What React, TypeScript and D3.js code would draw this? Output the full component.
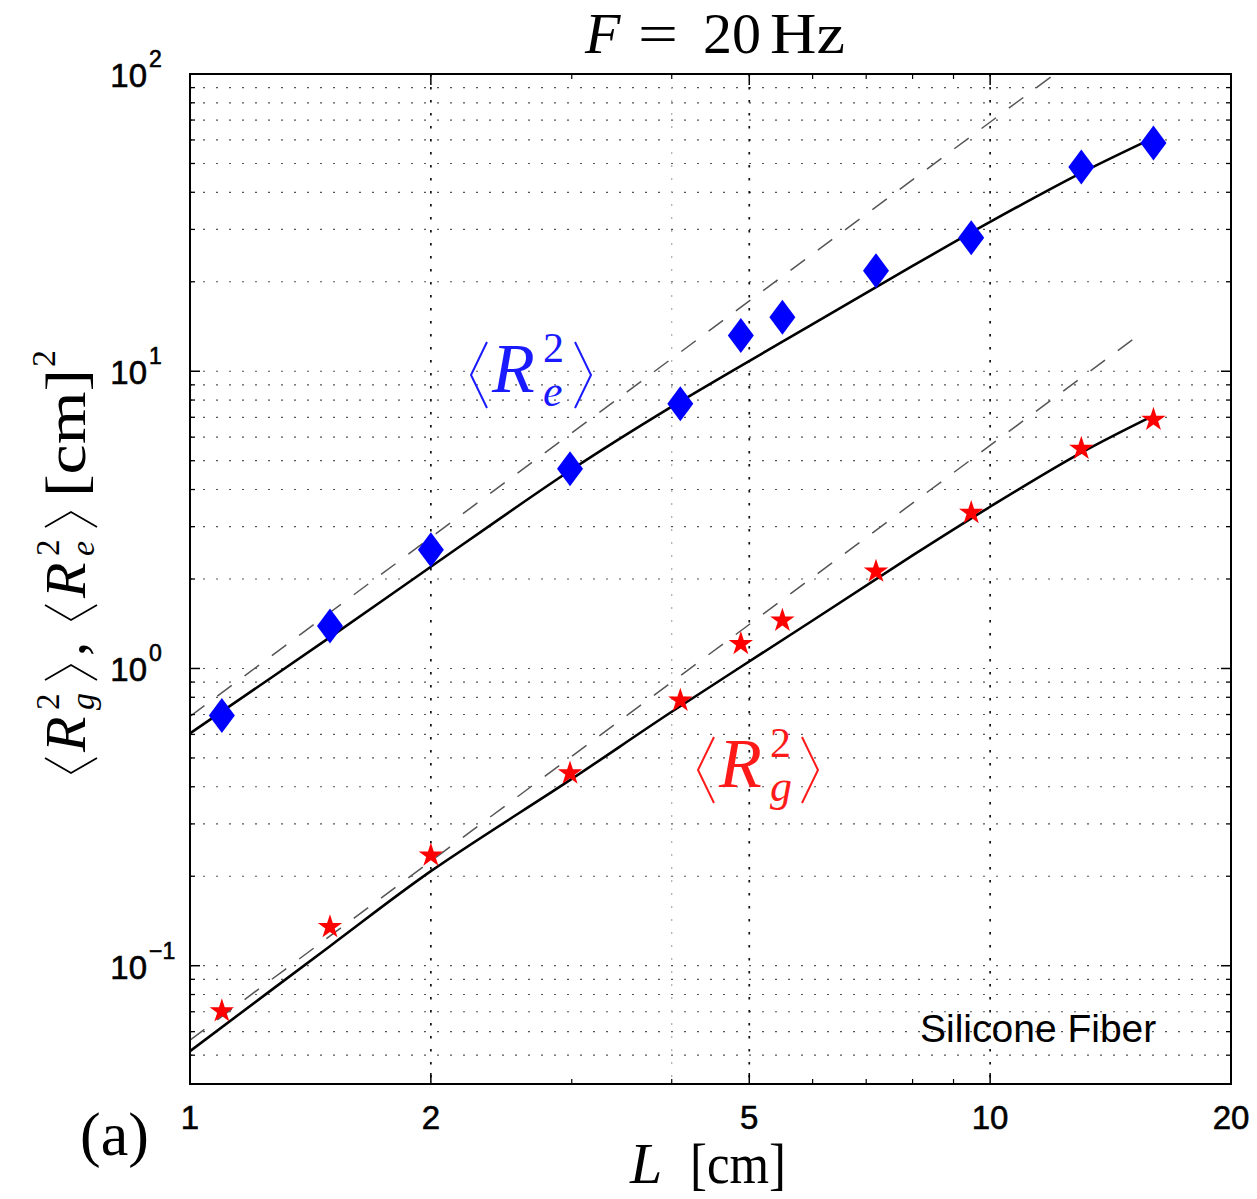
import React from 'react';
import * as d3 from 'd3';

const W = 1257;
const H = 1199;
const PL = 190, PR = 1231, PT = 74, PB = 1084;

// Axis ticks
const xTickValues = [1, 2, 5, 10, 20];
const xTickLabels = ['1', '2', '5', '10', '20'];
const xGridMajor = [2, 5, 10];
const xGridFaint = [4];
const yTickValues = [0.1, 1, 10, 100];
const yTickExponents = ['\u22121', '0', '1', '2'];

// Measured data points
const Lpts = [1.096, 1.496, 2.0, 2.985, 4.1, 4.88, 5.5, 7.2, 9.47, 13.0, 16.0];
const ReVals = [0.695, 1.39, 2.51, 4.7, 7.78, 13.2, 15.2, 21.8, 28.1, 48.7, 58.6];
const RgVals = [0.0703, 0.135, 0.235, 0.444, 0.78, 1.21, 1.45, 2.12, 3.34, 5.49, 6.87];

// Fitted curves
const fitL = [1, 1.5, 2, 3, 4, 6, 8, 10, 13, 16];
const fitRe = [0.605, 1.28, 2.2, 4.67, 7.6, 14.4, 22.6, 31.8, 46.5, 61.0];
const fitRg = [0.0516, 0.117, 0.208, 0.425, 0.715, 1.45, 2.4, 3.5, 5.32, 7.09];

// Slope-2 reference lines
const refReL = [1, 12.05];
const refReV = [0.69, 100];
const refRgL = [1, 15.6];
const refRgV = [0.0562, 13.7];

const x = d3.scaleLog().domain([1, 20]).range([PL, PR]);
const y = d3.scaleLog().domain([0.04, 100]).range([PB, PT]);

const line = d3
  .line<[number, number]>()
  .x((d) => x(d[0]))
  .y((d) => y(d[1]))
  .curve(d3.curveCatmullRom.alpha(0.5));
const straight = d3
  .line<[number, number]>()
  .x((d) => x(d[0]))
  .y((d) => y(d[1]));

const zip = (a: number[], b: number[]) => a.map((v, i) => [v, b[i]] as [number, number]);

const starPath = d3.symbol().type(d3.symbolStar).size(185)() as string;
const diamondPath = 'M0,-17.5L13,0L0,17.5L-13,0Z';

const SERIF = '"Liberation Serif", "Times New Roman", serif';
const SANS = '"Liberation Sans", Arial, Helvetica, sans-serif';

function AngleR({ x0, b, sub, color }: { x0: number; b: number; sub: string; color: string }) {
  return (
    <g fill={color} stroke="none" fontFamily={SERIF}>
      <polyline
        points={`${x0 + 17},${b - 50} ${x0 + 1},${b - 17} ${x0 + 17},${b + 16}`}
        fill="none"
        stroke={color}
        strokeWidth={2}
      />
      <text x={x0 + 22} y={b} fontSize={70} fontStyle="italic">R</text>
      <text x={x0 + 73} y={b - 30} fontSize={42}>2</text>
      <text x={x0 + 73} y={b + 14} fontSize={44} fontStyle="italic">{sub}</text>
      <polyline
        points={`${x0 + 105},${b - 50} ${x0 + 121},${b - 17} ${x0 + 105},${b + 16}`}
        fill="none"
        stroke={color}
        strokeWidth={2}
      />
    </g>
  );
}

function YBracket({ u, flip }: { u: number; flip?: boolean }) {
  const a = flip ? u + 15 : u;
  const t = flip ? u : u + 15;
  return (
    <polyline
      points={`${t},-40 ${a},-14 ${t},12`}
      fill="none"
      stroke="#000"
      strokeWidth={1.8}
    />
  );
}

export default function App() {
  const yGrid = y.ticks().filter((v) => v > 0.041 && v < 99);
  const yMinor = y.ticks().filter((v) => !yTickValues.some((m) => Math.abs(m - v) / m < 1e-6) && v > 0.041);
  const xMinor = [3, 4, 6, 7, 8, 9];

  return (
    <svg
      width={W}
      height={H}
      viewBox={`0 0 ${W} ${H}`}
      style={{ display: 'block', background: '#fff', position: 'absolute', left: 0, top: 0 }}
    >
      <rect x={0} y={0} width={W} height={H} fill="#fff" />
      <defs>
        <clipPath id="plotclip">
          <rect x={PL} y={PT} width={PR - PL} height={PB - PT} />
        </clipPath>
      </defs>

      {/* Grid */}
      <g>
        {yGrid.map((v, i) => (
          <line key={'hg' + i} x1={PL} x2={PR} y1={y(v)} y2={y(v)} stroke="#555" strokeWidth={1.2} strokeDasharray="2 11" />
        ))}
        {xGridFaint.map((v, i) => (
          <line key={'vf' + i} x1={x(v)} x2={x(v)} y1={PT} y2={PB} stroke="#aaa" strokeWidth={1.2} strokeDasharray="2 11" />
        ))}
        {xGridMajor.map((v, i) => (
          <line key={'vg' + i} x1={x(v)} x2={x(v)} y1={PT} y2={PB} stroke="#111" strokeWidth={1.7} strokeDasharray="2.5 10.5" />
        ))}
      </g>

      {/* Curves */}
      <g clipPath="url(#plotclip)">
        <path d={straight(zip(refReL, refReV)) as string} fill="none" stroke="#555" strokeWidth={1.5} strokeDasharray="18 16" />
        <path d={straight(zip(refRgL, refRgV)) as string} fill="none" stroke="#555" strokeWidth={1.5} strokeDasharray="18 16" />
        <path d={line(zip(fitL, fitRe)) as string} fill="none" stroke="#000" strokeWidth={2.6} />
        <path d={line(zip(fitL, fitRg)) as string} fill="none" stroke="#000" strokeWidth={2.6} />
      </g>

      {/* Markers */}
      <g>
        {Lpts.map((l, i) => (
          <path key={'d' + i} d={diamondPath} transform={`translate(${x(l)},${y(ReVals[i])})`} fill="#0000ff" />
        ))}
        {Lpts.map((l, i) => (
          <path key={'s' + i} d={starPath} transform={`translate(${x(l)},${y(RgVals[i])})`} fill="#ff0000" />
        ))}
      </g>

      {/* Frame and ticks */}
      <g stroke="#000">
        <rect x={PL} y={PT} width={PR - PL} height={PB - PT} fill="none" strokeWidth={2} />
        {yTickValues.map((v, i) => (
          <g key={'yt' + i}>
            <line x1={PL} x2={PL + 10} y1={y(v)} y2={y(v)} strokeWidth={1.5} />
            <line x1={PR} x2={PR - 10} y1={y(v)} y2={y(v)} strokeWidth={1.5} />
          </g>
        ))}
        {yMinor.map((v, i) => (
          <g key={'ym' + i}>
            <line x1={PL} x2={PL + 5} y1={y(v)} y2={y(v)} strokeWidth={1.3} />
            <line x1={PR} x2={PR - 5} y1={y(v)} y2={y(v)} strokeWidth={1.3} />
          </g>
        ))}
        {xGridMajor.map((v, i) => (
          <g key={'xt' + i}>
            <line x1={x(v)} x2={x(v)} y1={PB} y2={PB - 11} strokeWidth={1.5} />
            <line x1={x(v)} x2={x(v)} y1={PT} y2={PT + 11} strokeWidth={1.5} />
          </g>
        ))}
        {xMinor.map((v, i) => (
          <g key={'xm' + i}>
            <line x1={x(v)} x2={x(v)} y1={PB} y2={PB - 5} strokeWidth={1.2} />
            <line x1={x(v)} x2={x(v)} y1={PT} y2={PT + 5} strokeWidth={1.2} />
          </g>
        ))}
      </g>

      {/* Tick labels */}
      <g fontFamily={SANS} fill="#000" stroke="#000" strokeWidth={0.6}>
        {yTickValues.map((v, i) => (
          <g key={'yl' + i}>
            <text x={147} y={y(v) + 13} fontSize={33} textAnchor="end">10</text>
            <text x={149} y={y(v) - 7} fontSize={23}>{yTickExponents[i]}</text>
          </g>
        ))}
        {xTickValues.map((v, i) => (
          <text key={'xl' + i} x={x(v)} y={1129} fontSize={33} textAnchor="middle">{xTickLabels[i]}</text>
        ))}
      </g>

      {/* Title */}
      <g fontFamily={SERIF} fill="#000" fontSize={58}>
        <text x={585} y={53} fontStyle="italic">F</text>
        <text x={638} y={53} textLength={40} lengthAdjust="spacingAndGlyphs">=</text>
        <text x={703} y={53}>20</text>
        <text x={770} y={53} textLength={75} lengthAdjust="spacingAndGlyphs">Hz</text>
      </g>

      {/* X label */}
      <g fontFamily={SERIF} fill="#000">
        <text x={630} y={1183} fontSize={58} fontStyle="italic">L</text>
        <text x={690} y={1183} fontSize={58} textLength={96} lengthAdjust="spacingAndGlyphs">[cm]</text>
        <text x={80} y={1155} fontSize={62}>(a)</text>
      </g>

      {/* Y label (rotated) */}
      <g transform="translate(85,780) rotate(-90)" fontFamily={SERIF} fill="#000">
        <YBracket u={7} />
        <text x={28} y={0} fontSize={58} fontStyle="italic">R</text>
        <text x={70} y={-26} fontSize={33}>2</text>
        <text x={70} y={9} fontSize={34} fontStyle="italic">g</text>
        <YBracket u={100} flip />
        <text x={124} y={0} fontSize={56}>,</text>
        <YBracket u={160} />
        <text x={182} y={0} fontSize={58} fontStyle="italic">R</text>
        <text x={224} y={-26} fontSize={33}>2</text>
        <text x={224} y={9} fontSize={34} fontStyle="italic">e</text>
        <YBracket u={253} flip />
        <text x={283} y={0} fontSize={58} textLength={128} lengthAdjust="spacingAndGlyphs">[cm]</text>
        <text x={413} y={-30} fontSize={34}>2</text>
      </g>

      {/* Series labels */}
      <AngleR x0={470} b={392} sub="e" color="#1a1aff" />
      <AngleR x0={697} b={787} sub="g" color="#ff1a1a" />

      <text x={920} y={1042} fontFamily={SANS} fontSize={39} fill="#000">Silicone Fiber</text>
    </svg>
  );
}
